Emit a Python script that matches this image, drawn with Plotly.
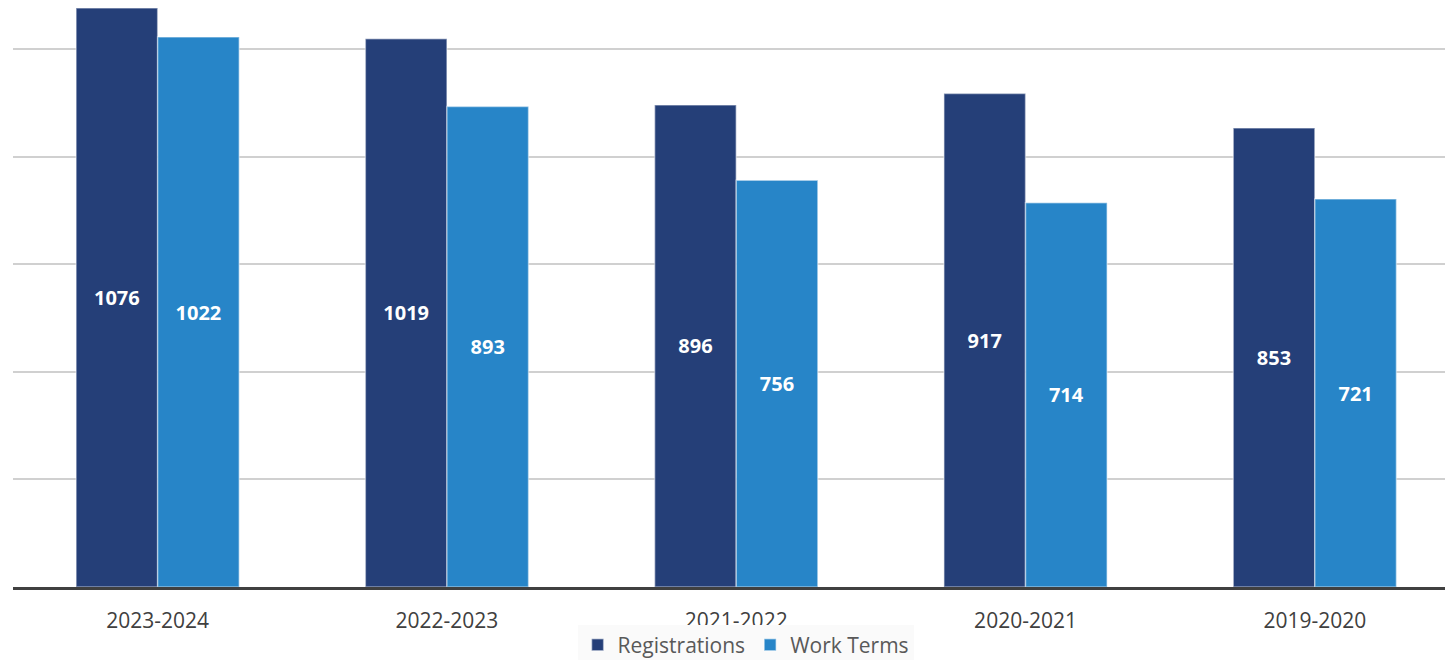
import plotly.graph_objects as go

categories = ["2023-2024", "2022-2023", "2021-2022", "2020-2021", "2019-2020"]
registrations = [1076, 1019, 896, 917, 853]
work_terms = [1022, 893, 756, 714, 721]

fig = go.Figure()
fig.add_trace(go.Bar(
    x=categories, y=registrations, name="Registrations",
    marker=dict(color="#253F78", line=dict(color="rgba(255,255,255,0.45)", width=1.5)),
    text=[str(v) for v in registrations], textposition="inside", insidetextanchor="middle",
    textfont=dict(color="white", size=20, family="Open Sans", weight="bold"), textangle=0,
))
fig.add_trace(go.Bar(
    x=categories, y=work_terms, name="Work Terms",
    marker=dict(color="#2785C8", line=dict(color="rgba(255,255,255,0.45)", width=1.5)),
    text=[str(v) for v in work_terms], textposition="inside", insidetextanchor="middle",
    textfont=dict(color="white", size=20, family="Open Sans", weight="bold"), textangle=0,
))

fig.update_layout(
    width=1445, height=660,
    margin=dict(l=13, r=0, t=0, b=73, autoexpand=False),
    plot_bgcolor="white", paper_bgcolor="white",
    barmode="group", bargap=0.436, bargroupgap=0,
    font=dict(family="Open Sans", color="#404040"),
    showlegend=True,
    legend=dict(orientation="h", x=0.516, xanchor="center", xref="container",
                y=(660 - 645) / 660, yanchor="middle", yref="container",
                bgcolor="rgba(250,250,250,1)", font=dict(size=21, color="#595959"),
                traceorder="normal", itemwidth=30, tracegroupgap=0),
    uniformtext=dict(minsize=10, mode="show"),
)
fig.update_xaxes(
    range=[-0.5, 4.45], showgrid=False, showline=True, linecolor="#404040", linewidth=3,
    tickfont=dict(size=21, color="#404040"), ticks="", ticklabelstandoff=13,
    automargin=False,
)
fig.update_yaxes(
    range=[0, 1091], dtick=200, showgrid=True, gridcolor="#d0d0d0", gridwidth=1.5,
    showticklabels=False, zeroline=False, showline=False, automargin=False,
)

fig.write_html("out.html", config={"displayModeBar": False},
               post_script="document.body.style.margin='0';")
